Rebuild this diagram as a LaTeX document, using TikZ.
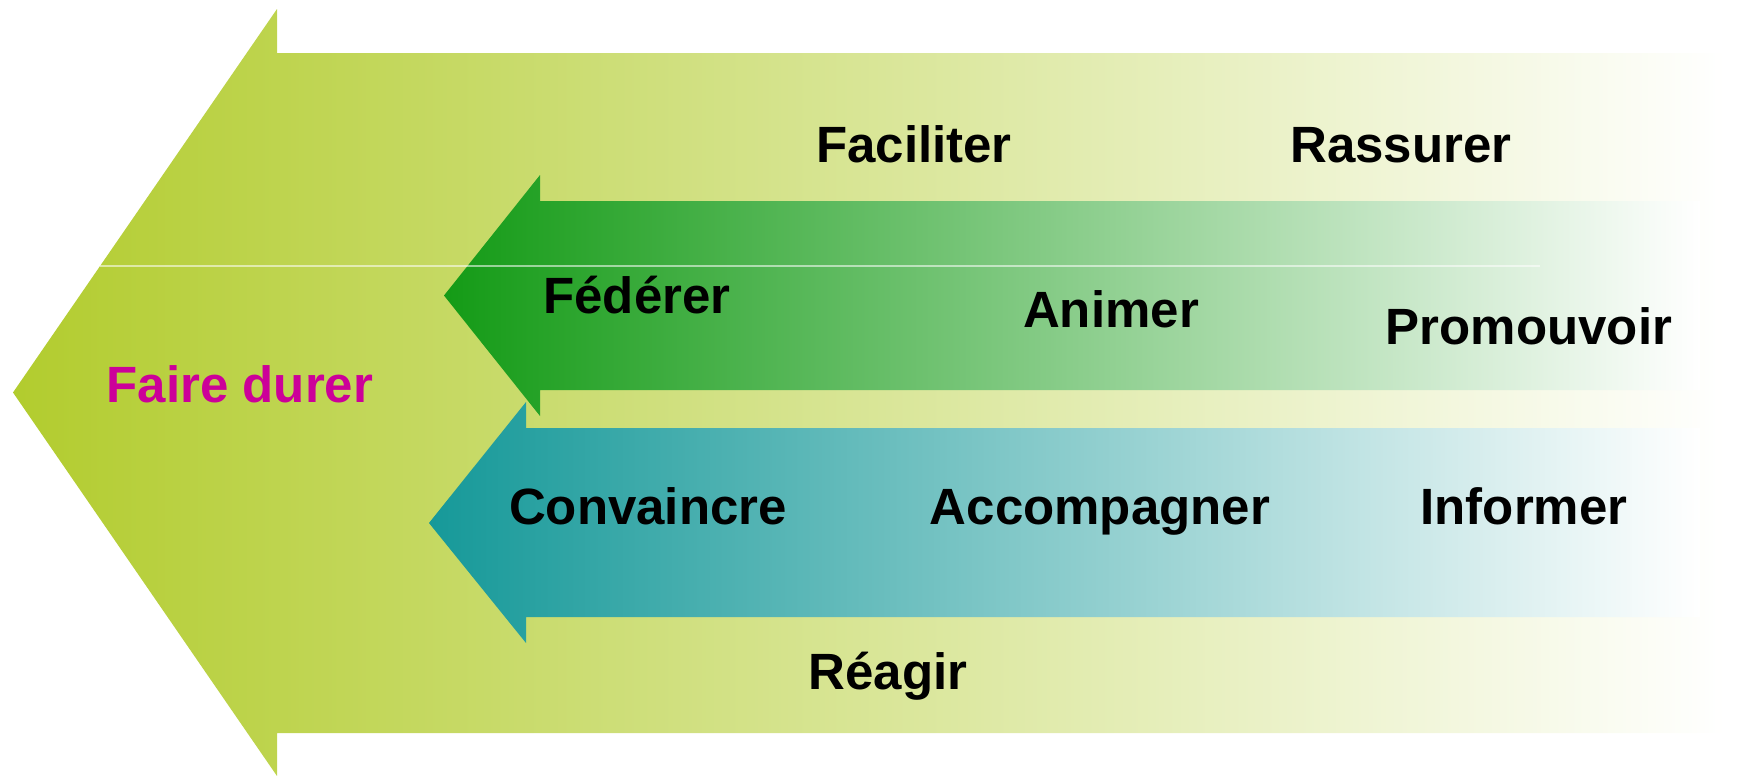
\documentclass[tikz,border=0pt]{standalone}
\usepackage{fontspec}
\setmainfont{Liberation Sans}
\definecolor{leafgreen}{RGB}{178,204,46}
\definecolor{deepgreen}{RGB}{20,155,22}
\definecolor{mossgreen}{RGB}{155,196,148}
\definecolor{teal}{RGB}{22,153,153}
\definecolor{greyteal}{RGB}{175,203,207}
\definecolor{fuchsia}{RGB}{204,0,153}
\begin{document}
\begin{tikzpicture}[x=0.5pt,y=0.5pt,yscale=-1,xscale=1,
  lbl/.style={font=\bfseries\fontsize{25.5}{30}\selectfont,inner sep=0pt,anchor=base}]
\useasboundingbox (0,0) rectangle (1737,776);

%Shape: Left Arrow (big)
\shade[left color=leafgreen,right color=white] (1725,53) -- (277,53) -- (277,9) -- (13,392.5) -- (277,776) -- (277,733) -- (1725,733) -- cycle ;
%Shape: Left Arrow (teal)
\shade[left color=teal,middle color=greyteal,right color=white] (1700,428) -- (526,428) -- (526,402) -- (429,523) -- (526,643) -- (526,617) -- (1700,617) -- cycle ;
%Shape: Left Arrow (green)
\shade[left color=deepgreen,middle color=mossgreen,right color=white] (1700,201) -- (540,201) -- (540,175) -- (444,295.5) -- (540,416) -- (540,390) -- (1700,390) -- cycle ;
%Straight Lines
\draw [white,opacity=0.55,line width=1]   (100,266) -- (1540,266) ;

% Text Node
\draw (240,402) node [lbl,text=fuchsia] (durer) {Faire durer};
% Text Node
\draw (914,162) node [lbl] (faciliter) {Faciliter};
% Text Node
\draw (1401,162) node [lbl] (rassurer) {Rassurer};
% Text Node
\draw (637,313) node [lbl] (federer) {Fédérer};
% Text Node
\draw (1111,327) node [lbl] (animer) {Animer};
% Text Node
\draw (1529,344) node [lbl] (promouvoir) {Promouvoir};
% Text Node
\draw (648,524) node [lbl] (convaincre) {Convaincre};
% Text Node
\draw (1100,524) node [lbl] (accompagner) {Accompagner};
% Text Node
\draw (1524,524) node [lbl] (informer) {Informer};
% Text Node
\draw (888,689) node [lbl] (reagir) {Réagir};

\end{tikzpicture}
\end{document}
